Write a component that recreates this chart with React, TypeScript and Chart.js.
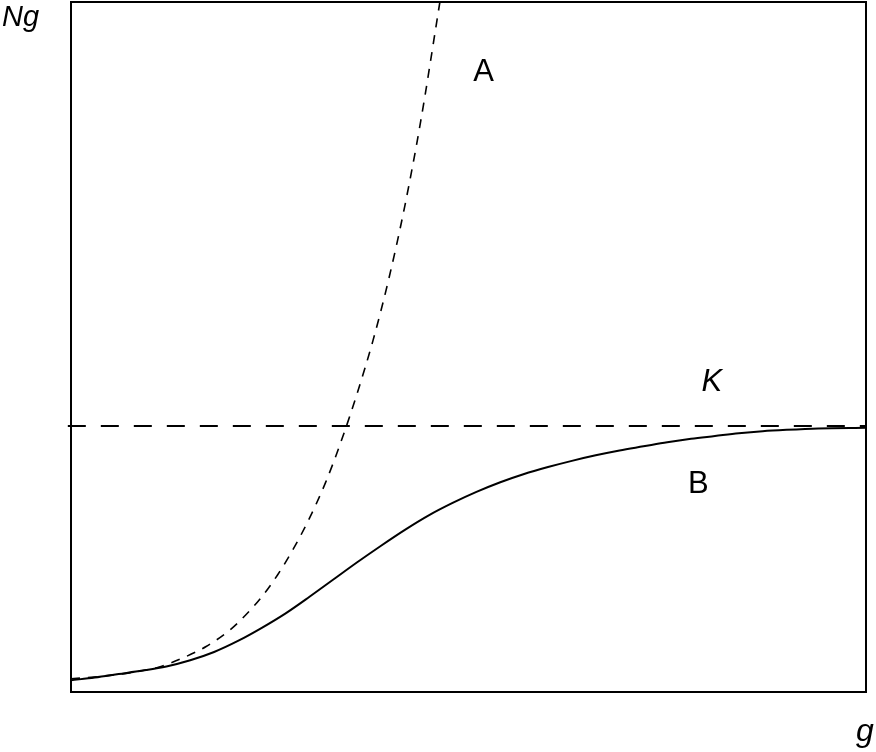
import React, { useEffect, useRef } from "react";
import { Chart, registerables } from "chart.js";

Chart.register(...registerables);

// Curve A: exponential growth (g, Ng)
const curveAX = [0, 4, 8, 11, 14, 17, 20, 22, 24, 26, 28, 30, 32, 34, 36, 38, 40, 42, 44, 46.4];
const curveAY = [1.9, 2.3, 2.9, 3.6, 4.9, 6.6, 9.0, 11.2, 13.8, 17.0, 20.8, 25.2, 30.3, 36.4, 43.3, 51.0, 60.0, 70.5, 82.8, 100];

// Curve B: logistic growth (g, Ng)
const curveBX = [0, 3, 6, 9, 12, 15, 18, 21, 24, 27, 30, 33, 36, 39, 42, 45, 48, 51, 54, 57, 60, 63, 66, 69, 72, 75, 78, 81, 84, 87, 90, 94, 100];
const curveBY = [1.7, 2.1, 2.6, 3.1, 3.7, 4.6, 5.8, 7.4, 9.3, 11.4, 13.8, 16.3, 18.8, 21.2, 23.5, 25.6, 27.4, 29.0, 30.4, 31.6, 32.6, 33.5, 34.3, 35.0, 35.6, 36.2, 36.7, 37.1, 37.5, 37.8, 38.0, 38.2, 38.3];

// Carrying capacity K
const kValue = 38.55;
const kX = [-0.4, 100];

const labels = { yAxis: "Ng", xAxis: "g", a: "A", b: "B", k: "K" };

export default function App() {
  const ref = useRef<HTMLCanvasElement | null>(null);

  useEffect(() => {
    document.body.style.margin = "0";
    const canvas = ref.current;
    if (!canvas) return;

    const boxPlugin = {
      id: "boxAndLabels",
      afterDraw(chart: any) {
        const { ctx, chartArea, scales } = chart;
        const xs = scales.x;
        const ys = scales.y;
        ctx.save();
        ctx.strokeStyle = "#000";
        ctx.lineWidth = 2;
        ctx.setLineDash([]);
        ctx.strokeRect(chartArea.left, chartArea.top, chartArea.right - chartArea.left, chartArea.bottom - chartArea.top);
        ctx.fillStyle = "#000";
        ctx.textBaseline = "alphabetic";
        ctx.textAlign = "left";
        ctx.font = "italic 29px 'Liberation Sans', Arial, sans-serif";
        ctx.fillText(labels.yAxis, 2, 26);
        ctx.textAlign = "center";
        ctx.font = "italic 32px 'Liberation Sans', Arial, sans-serif";
        ctx.fillText(labels.xAxis, 865, 741);
        ctx.font = "italic 31px 'Liberation Sans', Arial, sans-serif";
        ctx.fillText(labels.k, xs.getPixelForValue(80.6), ys.getPixelForValue(kValue) - 35);
        ctx.font = "31px 'Liberation Sans', Arial, sans-serif";
        ctx.fillText(labels.a, xs.getPixelForValue(51.9), ys.getPixelForValue(88.5));
        ctx.fillText(labels.b, xs.getPixelForValue(78.9), ys.getPixelForValue(28.9));
        ctx.restore();
      },
    };

    const chart = new Chart(canvas, {
      type: "scatter",
      data: {
        datasets: [
          {
            label: "K",
            data: kX.map((x) => ({ x, y: kValue })),
            showLine: true,
            borderColor: "#000",
            borderWidth: 2,
            borderDash: [18, 15],
            pointRadius: 0,
            clip: false as any,
          },
          {
            label: "A",
            data: curveAX.map((x, i) => ({ x, y: curveAY[i] })),
            showLine: true,
            borderColor: "#000",
            borderWidth: 1.6,
            borderDash: [9, 8],
            pointRadius: 0,
            cubicInterpolationMode: "monotone",
          },
          {
            label: "B",
            data: curveBX.map((x, i) => ({ x, y: curveBY[i] })),
            showLine: true,
            borderColor: "#000",
            borderWidth: 2,
            pointRadius: 0,
            cubicInterpolationMode: "monotone",
          },
        ],
      },
      options: {
        animation: false,
        responsive: false,
        events: [],
        layout: { padding: { left: 71, top: 2, right: 10, bottom: 60 } },
        plugins: { legend: { display: false }, tooltip: { enabled: false } },
        scales: {
          x: { type: "linear", min: 0, max: 100, display: false },
          y: { type: "linear", min: 0, max: 100, display: false },
        },
      },
      plugins: [boxPlugin],
    });
    return () => chart.destroy();
  }, []);

  return (
    <div style={{ position: "absolute", left: 0, top: 0, width: 876, height: 752, background: "#fff" }}>
      <canvas ref={ref} width={876} height={752} />
    </div>
  );
}
